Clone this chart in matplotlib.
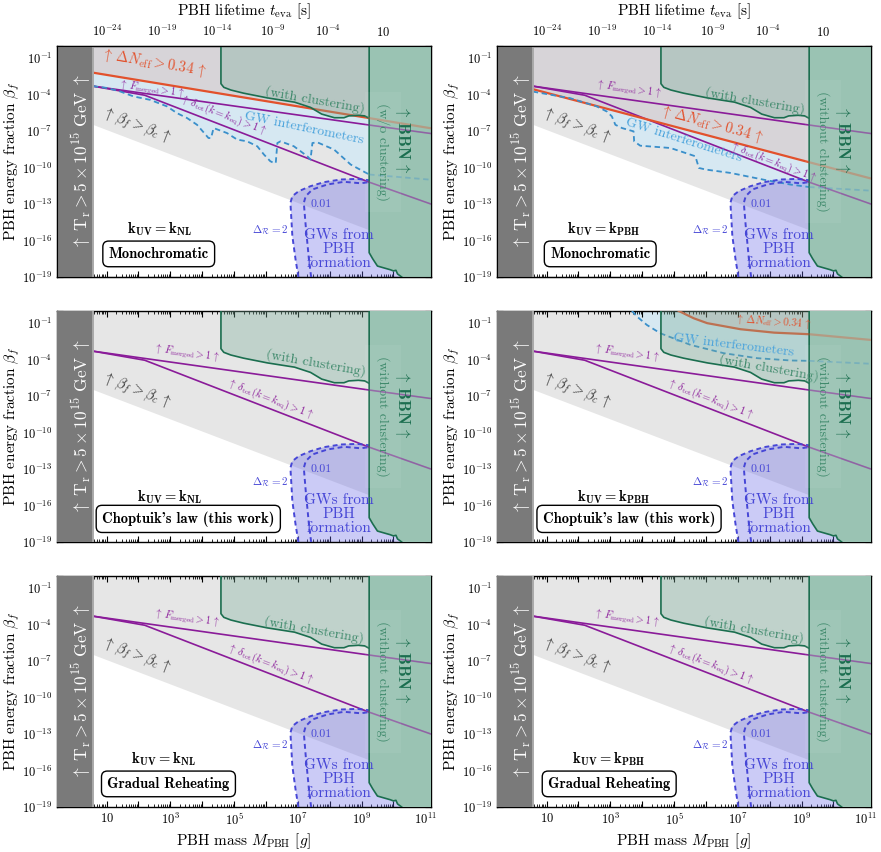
import numpy as np
import matplotlib
matplotlib.use("Agg")
import matplotlib.pyplot as plt
from matplotlib.ticker import LogLocator, FuncFormatter, NullFormatter, NullLocator

plt.rcParams.update({
    "font.family": "serif",
    "font.serif": ["cmr10"],
    "mathtext.fontset": "cm",
    "axes.formatter.use_mathtext": True,
    "axes.unicode_minus": False,
})

# all curves as (log10 M/g, log10 beta_f)
X_LIM = (-0.553, 11.18)
Y_LIM = (-19.0, 0.0)
band_edge = 0.57        # T_r > 5e15 GeV
bbn_edge = 9.24

betac_logm = [0.57, 11.18]
betac_logb = [-6.45, -17.06]

fmerged_logm = [0.57, 9.24, 11.18]
fmerged_logb = [-3.3, -6.5, -7.2]

deltatot_logm = [0.57, 2.2, 9.24, 11.18]
deltatot_logb = [-3.3, -4.05, -11.2, -13.0]

clust_logm = [4.59, 4.59, 4.68, 4.9, 5.3, 6.05, 6.9, 7.4, 7.75, 8.15, 8.45, 8.6, 8.9, 9.1, 9.24]
clust_logb = [0.0, -3.1, -3.4, -3.62, -3.88, -4.27, -4.62, -5.05, -5.6, -5.9, -5.9, -5.75, -5.7, -5.75, -5.95]

bbn_logm = [9.24, 9.24, 9.35, 9.5, 9.9, 10.0, 10.08, 10.13, 10.21, 10.26]
bbn_logb = [0.0, -17.0, -17.5, -18.1, -18.4, -18.5, -18.45, -18.75, -18.9, -19.0]

form_outer_logm = [7.02, 6.93, 6.83, 6.77, 6.83, 7.03, 7.40, 7.82, 8.35, 8.87, 9.24, 11.18]
form_outer_logb = [-19.0, -17.54, -15.63, -12.9, -12.35, -11.94, -11.53, -11.2, -10.98, -10.93, -11.04, -11.1]
form_inner_logm = [7.42, 7.35, 7.25, 7.19, 7.25, 7.46, 7.93, 8.45, 8.97, 9.24, 11.18]
form_inner_logb = [-19.0, -17.54, -14.8, -12.9, -12.35, -11.8, -11.39, -11.17, -11.29, -11.2, -11.3]

# GW interferometer bounds
gw_mono_nl_logm = [0.57, 1.01, 1.43, 1.85, 2.37, 2.9, 3.21, 3.53, 3.84, 4.2, 4.28, 4.36, 4.78, 5.1, 5.41,
                   5.73, 5.94, 6.14, 6.25, 6.31, 6.36, 6.46, 6.88, 7.3, 7.4, 7.46, 7.61, 8.14, 8.66, 9.24, 11.18]
gw_mono_nl_logb = [-3.3, -3.45, -3.74, -4.15, -4.43, -4.97, -5.52, -5.93, -6.48, -7.57, -7.57, -6.75, -7.16, -7.7, -7.84,
                   -8.25, -8.93, -9.48, -9.62, -9.62, -7.98, -7.84, -8.25, -9.07, -9.34, -7.98, -7.92, -8.52, -9.75, -10.57, -11.0]
gw_mono_pbh_logm = [0.57, 1.0, 1.74, 2.58, 2.9, 3.05, 3.16, 3.37, 3.73, 3.75, 3.94, 4.89, 5.67, 5.78, 5.99,
                    6.77, 7.82, 8.66, 9.24, 11.18]
gw_mono_pbh_logb = [-3.75, -3.95, -4.29, -4.97, -5.4, -5.79, -6.48, -6.75, -7.02, -7.84, -8.2, -8.39, -9.07, -10.03, -10.16,
                    -10.44, -11.0, -11.4, -11.6, -11.9]
gw_chop_pbh_logm = [3.68, 3.84, 4.15, 4.57, 5.52, 6.56, 7.61, 8.66, 9.24, 11.18]
gw_chop_pbh_logb = [0.0, -0.46, -1.15, -1.83, -2.79, -3.47, -3.88, -4.07, -4.1, -4.34]

# Delta N_eff > 0.34 bounds
neff_mono_nl_logm = [0.57, 9.24, 11.18]
neff_mono_nl_logb = [-2.19, -5.93, -6.77]
neff_mono_pbh_logm = [0.57, 9.24, 11.18]
neff_mono_pbh_logb = [-3.55, -9.56, -10.9]
neff_chop_pbh_logm = [5.15, 5.62, 6.04, 7.09, 8.14, 9.24, 11.18]
neff_chop_pbh_logb = [0.0, -0.6, -1.0, -1.5, -1.78, -1.91, -2.38]

# top axis: PBH lifetime tick values (log10 t / s)
t_ticks = [-24, -19, -14, -9, -4, 1]
t_labels = [r"$10^{-24}$", r"$10^{-19}$", r"$10^{-14}$", r"$10^{-9}$", r"$10^{-4}$", r"$10$"]

kuv_labels = {"NL": r"$\mathbf{k_{UV} = k_{NL}}$", "PBH": r"$\mathbf{k_{UV} = k_{PBH}}$"}
row_labels = ["Monochromatic", "Choptuik's law (this work)", "Gradual Reheating"]

GRAY = "#e6e6e6"
BAND = "#7a7a7a"
PURPLE = "#8a1b99"
ORANGE = "#e2512c"
GW_EDGE = "#3a8fca"
GW_FILL = "#c8eafe"
FORM_EDGE = "#4646d6"
FORM_FILL = "#6a6ae6"
GREEN_EDGE = "#1b6e4f"
CLUST_FILL = "#79ad99"
BBN_FILL = "#9ac3b3"


def L(v):
    return 10.0 ** np.asarray(v, dtype=float)


def lifetime_to_logm(logt):
    # mapping
    return 1.02 + (np.asarray(logt, dtype=float) + 24.0) / 2.89


def tail(xs, ys):
    xs, ys = np.asarray(xs), np.asarray(ys)
    keep = xs >= bbn_edge - 1e-6
    return xs[keep], ys[keep]


def line_with_tail(ax, xs, ys, **kw):
    ax.plot(L(xs), L(ys), zorder=3, **kw)
    tx, ty = tail(xs, ys)
    if len(tx) > 1:
        ax.plot(L(tx), L(ty), zorder=7, alpha=0.35, **kw)


def draw_panel(ax, row, col, gw, neff, txt):
    ax.set_xscale("log")
    ax.set_yscale("log")
    ax.set_xlim(*L(X_LIM))
    ax.set_ylim(*L(Y_LIM))

    ax.fill_between(L(betac_logm), L(betac_logb), 1, color=GRAY, lw=0, zorder=1)
    if gw is not None:
        ax.fill_between(L(gw[0]), L(gw[1]), 1, color=GW_FILL, alpha=0.5, lw=0, zorder=1.5)
    if neff is not None:
        ax.fill_between(L(neff[0]), L(neff[1]), 1, color=ORANGE, alpha=0.13, lw=0, zorder=1.6)
    ax.fill(L(form_outer_logm + [X_LIM[1]]), L(form_outer_logb + [-19.0]),
            color=FORM_FILL, alpha=0.35, lw=0, zorder=2)

    line_with_tail(ax, fmerged_logm, fmerged_logb, color=PURPLE, lw=1.2)
    line_with_tail(ax, deltatot_logm, deltatot_logb, color=PURPLE, lw=1.2)
    if neff is not None:
        line_with_tail(ax, neff[0], neff[1], color=ORANGE, lw=1.6)
    if gw is not None:
        line_with_tail(ax, gw[0], gw[1], color=GW_EDGE, lw=1.3, ls=(0, (3, 2)))
    ax.plot(L(form_outer_logm), L(form_outer_logb), color=FORM_EDGE, lw=1.4, ls=(0, (2.5, 1.8)), zorder=3)
    ax.plot(L(form_inner_logm), L(form_inner_logb), color=FORM_EDGE, lw=1.4, ls=(0, (2.5, 1.8)), zorder=3)

    ax.fill(L(clust_logm + [bbn_edge]), L(clust_logb + [0.0]), color=CLUST_FILL, alpha=0.35, lw=0, zorder=5)
    ax.plot(L(clust_logm), L(clust_logb), color=GREEN_EDGE, lw=1.2, zorder=5.5)
    ax.fill(L(bbn_logm + [X_LIM[1], X_LIM[1]]), L(bbn_logb + [-19.0, 0.0]), color=BBN_FILL, lw=0, zorder=6)
    # faint continuations seen through the BBN region
    for xs, ys, kw in [(fmerged_logm, fmerged_logb, dict(color=PURPLE, lw=1.0)),
                       (deltatot_logm, deltatot_logb, dict(color=PURPLE, lw=1.0))]:
        tx, ty = tail(xs, ys)
        ax.plot(L(tx), L(ty), alpha=0.35, zorder=6.2, **kw)
    ax.plot(L(bbn_logm), L(bbn_logb), color=GREEN_EDGE, lw=1.2, zorder=6.5)

    ax.axvspan(L(X_LIM[0]), L(band_edge), color=BAND, lw=0, zorder=8)
    ax.axvline(L(band_edge), color="#a9a9a9", lw=1.4, zorder=8)

    # labels
    tk = dict(zorder=10, ha="center", va="center", rotation_mode="anchor")
    ax.text(L(0.2), L(-9.5), r"$\uparrow\ \mathrm{T_r} > 5\times10^{15}\ \mathrm{GeV}\ \uparrow$",
            color="white", fontsize=12.5, rotation=90, **tk)
    ax.text(L(1.95), L(-6.55), r"$\uparrow\,\beta_f > \beta_c\,\uparrow$", color="#333333", fontsize=10.5,
            rotation=-21, **tk)
    ax.text(L(txt["fm"][0]), L(txt["fm"][1]), r"$\uparrow\,F_\mathrm{merged} > 1\,\uparrow$",
            color=PURPLE, fontsize=7.3, rotation=-8, **tk)
    ax.text(L(txt["dt"][0]), L(txt["dt"][1]), r"$\uparrow\,\delta_\mathrm{tot}(k = k_\mathrm{eq}) > 1\,\uparrow$",
            color=PURPLE, fontsize=7.6, rotation=-21, **tk)
    ax.text(L(txt["cl"][0]), L(txt["cl"][1]), "(with clustering)", color="#3f8a6c", fontsize=10,
            rotation=-10, **tk)
    ax.text(L(10.29), L(-7.7), r"$\uparrow\,\mathbf{BBN}\,\uparrow$", color=GREEN_EDGE, fontsize=12,
            rotation=-90, **tk)
    ax.text(L(9.68), L(-8.7), txt["bbn"], color="#3f8a6c", fontsize=10, rotation=-90,
            bbox=dict(fc="white", ec="none", alpha=0.06, pad=8), **tk)
    ax.text(L(txt["dr"][0]), L(txt["dr"][1]), r"$\Delta_\mathcal{R} = 2$", color=FORM_EDGE, fontsize=8, **tk)
    ax.text(L(7.72), L(-13.0), "0.01", color=FORM_EDGE, fontsize=8.5, **tk)
    ax.text(L(8.29), L(-16.7), "GWs from\nPBH\nformation", color=FORM_EDGE, fontsize=11,
            linespacing=1.0, **tk)
    if gw is not None:
        ax.text(L(txt["gw"][0]), L(txt["gw"][1]), "GW interferometers", color="#4aa3dc", fontsize=10,
                rotation=txt["gw"][2], **tk)
    if neff is not None:
        ax.text(L(txt["ne"][0]), L(txt["ne"][1]), r"$\uparrow\,\Delta N_\mathrm{eff} > 0.34\,\uparrow$",
                color=ORANGE, fontsize=txt["ne"][3], rotation=txt["ne"][2], **tk)

    ax.text(txt["k"][0], txt["k"][1], kuv_labels["NL" if col == 0 else "PBH"], transform=ax.transAxes,
            fontsize=10.5, ha="center", va="center", zorder=10)
    ax.text(txt["box"][0], 0.10, row_labels[row], transform=ax.transAxes, family=["cmb10", "DejaVu Serif"],
            fontsize=10.5, ha="center", va="center", zorder=10,
            bbox=dict(boxstyle="round,pad=0.4", fc="white", ec="black", lw=1))

    # ticks
    ax.xaxis.set_major_locator(LogLocator(base=10, numticks=40))
    ax.xaxis.set_minor_locator(LogLocator(base=10, subs=np.arange(2, 10), numticks=400))
    ax.yaxis.set_major_locator(LogLocator(base=10, numticks=40))
    ax.yaxis.set_minor_locator(LogLocator(base=10, subs=np.arange(2, 10), numticks=400))
    ax.tick_params(which="both", direction="in", top=True, right=True, labelsize=9)
    ax.tick_params(which="major", length=4, width=0.8)
    ax.tick_params(which="minor", length=2, width=0.6)
    ax.xaxis.set_minor_formatter(NullFormatter())
    ax.yaxis.set_minor_formatter(NullFormatter())

    def yfmt(v, _):
        e = int(round(np.log10(v)))
        return r"$10^{%d}$" % e if (e <= -1 and (e + 1) % 3 == 0) else ""
    ax.yaxis.set_major_formatter(FuncFormatter(yfmt))

    if row == 2:
        def xfmt(v, _):
            e = int(round(np.log10(v)))
            if e % 2 == 0 or e < 1:
                return ""
            return r"$10$" if e == 1 else r"$10^{%d}$" % e
        ax.xaxis.set_major_formatter(FuncFormatter(xfmt))
        ax.set_xlabel(r"PBH mass $M_\mathrm{PBH}$ [$g$]", fontsize=11, labelpad=3)
    else:
        ax.xaxis.set_major_formatter(NullFormatter())

    ax.set_ylabel(r"PBH energy fraction $\beta_f$", fontsize=11)
    ax.yaxis.set_label_coords(-0.093, 0.5)
    for s in ax.spines.values():
        s.set_linewidth(1.0)

    if row == 0:
        top = ax.twiny()
        top.set_xscale("log")
        top.set_xlim(ax.get_xlim())
        top.set_xticks(L(lifetime_to_logm(t_ticks)))
        top.set_xticklabels(t_labels)
        top.xaxis.set_minor_locator(NullLocator())
        top.tick_params(length=0, labelsize=9, pad=5)
        top.set_xlabel(r"PBH lifetime $t_\mathrm{eva}$ [s]", fontsize=11, labelpad=6)


fig = plt.figure(figsize=(8.81, 8.52), dpi=100)
col_x = [57 / 881, 497 / 881]
row_y = [1 - 277 / 852, 1 - 542 / 852, 1 - 807 / 852]
w, h = 374 / 881, 231 / 852

panel_specs = {
    (0, 0): dict(gw=(gw_mono_nl_logm, gw_mono_nl_logb), neff=(neff_mono_nl_logm, neff_mono_nl_logb),
                 txt=dict(fm=(2.42, -3.55), dt=(4.68, -5.66), cl=(7.55, -4.45), bbn="(w/o clustering)",
                          dr=(6.14, -15.1), gw=(7.19, -6.75, -11.7), ne=(2.48, -1.42, -9.4, 10.5),
                          k=(0.275, 0.205), box=(0.272,))),
    (0, 1): dict(gw=(gw_mono_pbh_logm, gw_mono_pbh_logb), neff=(neff_mono_pbh_logm, neff_mono_pbh_logb),
                 txt=dict(fm=(3.58, -3.6), dt=(8.13, -9.6), cl=(7.55, -4.5), bbn="(without clustering)",
                          dr=(6.14, -15.1), gw=(5.3, -7.75, -17.5), ne=(6.17, -6.4, -15, 10.5),
                          k=(0.285, 0.205), box=(0.276,))),
    (1, 0): dict(gw=None, neff=None,
                 txt=dict(fm=(3.53, -3.5), dt=(6.15, -7.3), cl=(7.56, -4.3), bbn="(without clustering)",
                          dr=(6.14, -14.05), k=(0.302, 0.195), box=(0.351,))),
    (1, 1): dict(gw=(gw_chop_pbh_logm, gw_chop_pbh_logb), neff=(neff_chop_pbh_logm, neff_chop_pbh_logb),
                 txt=dict(fm=(3.53, -3.5), dt=(6.15, -7.3), cl=(7.98, -4.7), bbn="(without clustering)",
                          dr=(6.14, -14.05), gw=(6.88, -2.79, -7), ne=(8.13, -0.88, -4, 7.5),
                          k=(0.311, 0.195), box=(0.353,))),
    (2, 0): dict(gw=None, neff=None,
                 txt=dict(fm=(3.53, -3.52), dt=(6.15, -7.3), cl=(7.5, -4.48), bbn="(without clustering)",
                          dr=(6.14, -13.9), k=(0.284, 0.205), box=(0.298,))),
    (2, 1): dict(gw=None, neff=None,
                 txt=dict(fm=(3.53, -3.52), dt=(6.15, -7.3), cl=(7.5, -4.48), bbn="(without clustering)",
                          dr=(6.14, -13.9), k=(0.298, 0.205), box=(0.30,))),
}

for (r, c), spec in panel_specs.items():
    ax = fig.add_axes([col_x[c], row_y[r], w, h])
    draw_panel(ax, r, c, spec["gw"], spec["neff"], spec["txt"])

fig.savefig("out.png", dpi=100)
